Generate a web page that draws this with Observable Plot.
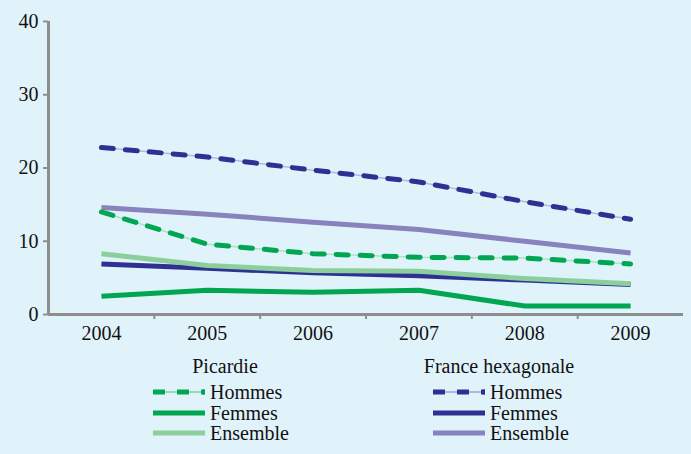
<!DOCTYPE html>
<html>
<head>
<meta charset="utf-8">
<script src="https://cdn.jsdelivr.net/npm/d3@7"></script>
<script src="https://cdn.jsdelivr.net/npm/@observablehq/plot@0.6"></script>
<style>
  html, body { margin: 0; padding: 0; background: #e1f3fa; }
  #wrap { position: relative; width: 691px; height: 454px; background: #e1f3fa; font-family: "Liberation Serif", "DejaVu Serif", Tinos, Times, serif; color: #111; overflow: hidden; }
  #chart { position: absolute; left: 0; top: 0; }
  .grp { position: absolute; font-size: 20px; line-height: 20px; }
  .item { position: absolute; font-size: 20px; line-height: 20px; display: flex; align-items: center; white-space: nowrap; }
  .item svg { margin-right: 5px; }
  #chart svg text { font-family: "Liberation Serif", "DejaVu Serif", Tinos, Times, serif; }
</style>
</head>
<body>
<div id="wrap">
  <div id="chart"></div>
  <div id="legend"></div>
</div>
<script>
const years = [2004, 2005, 2006, 2007, 2008, 2009];
const picHommes   = [14.0, 9.6, 8.3, 7.8, 7.7, 6.9];
const picFemmes   = [2.5, 3.3, 3.05, 3.3, 1.15, 1.15];
const picEnsemble = [8.3, 6.7, 6.0, 5.9, 4.9, 4.2];
const fraHommes   = [22.8, 21.5, 19.7, 18.1, 15.4, 13.0];
const fraFemmes   = [6.9, 6.3, 5.7, 5.3, 4.7, 4.1];
const fraEnsemble = [14.6, 13.7, 12.6, 11.6, 10.0, 8.4];
const yTicks = [0, 10, 20, 30, 40];
const groupNames = ["Picardie", "France hexagonale"];
const seriesNames = ["Hommes", "Femmes", "Ensemble"];

const GREEN = "#00a651", LGREEN = "#8ccf9c", BLUE = "#2e3192", PURPLE = "#8882be";
const GRAY = "#8e8e8e";
const FONT = '"Liberation Serif", "DejaVu Serif", Tinos, Times, serif';

const toRows = (vals) => years.map((y, i) => ({year: y, value: vals[i]}));
const boundaries = years.slice(0, -1).map(y => y + 0.5);

const solid = (vals, color) => Plot.line(toRows(vals), {x: "year", y: "value", stroke: color, strokeWidth: 5, strokeLinecap: "butt"});
const dashed = (vals, color, thin) => [
  Plot.line(toRows(vals), {x: "year", y: "value", stroke: thin, strokeWidth: 1.5}),
  Plot.line(toRows(vals), {x: "year", y: "value", stroke: color, strokeWidth: 5, strokeDasharray: "12,12"})
];

const chart = Plot.plot({
  width: 691, height: 345,
  marginLeft: 48, marginRight: 8, marginTop: 21, marginBottom: 31,
  style: {background: "transparent", fontFamily: FONT, fontSize: "20px", color: "#111", overflow: "visible"},
  x: {domain: [years[0] - 0.5, years[years.length - 1] + 0.5]},
  y: {domain: [0, 40]},
  marks: [
    Plot.axisY({ticks: yTicks, tickSize: 5, tickPadding: 5, stroke: GRAY, strokeWidth: 2, label: null, fill: "#111", strokeOpacity: 1}),
    Plot.axisX({ticks: boundaries, tickSize: 5, tickFormat: () => "", stroke: GRAY, strokeWidth: 2, label: null, strokeOpacity: 1}),
    Plot.axisX({ticks: years, tickSize: 0, tickPadding: 11, tickFormat: d => String(d), label: null, fill: "#111"}),
    Plot.ruleX([years[0] - 0.5], {stroke: GRAY, strokeWidth: 3}),
    Plot.ruleY([0], {stroke: GRAY, strokeWidth: 3}),
    solid(picFemmes, GREEN),
    solid(fraFemmes, BLUE),
    solid(picEnsemble, LGREEN),
    solid(fraEnsemble, PURPLE),
    ...dashed(picHommes, GREEN, "#aee0c6"),
    ...dashed(fraHommes, BLUE, "#b3b9dd")
  ]
});
document.getElementById("chart").appendChild(chart);

// Legend
const legend = document.getElementById("legend");
const groups = [
  {name: groupNames[0], cx: 225, x: 153, colors: [GREEN, GREEN, LGREEN], thin: "#7fd0a6"},
  {name: groupNames[1], cx: 499, x: 433, colors: [BLUE, BLUE, PURPLE], thin: "#9aa2d6"}
];
const rowTops = [382, 403, 423];
groups.forEach(g => {
  const t = document.createElement("div");
  t.className = "grp";
  t.textContent = g.name;
  t.style.top = "356px";
  t.style.left = g.cx + "px";
  t.style.transform = "translateX(-50%)";
  legend.appendChild(t);
  seriesNames.forEach((s, i) => {
    const it = document.createElement("div");
    it.className = "item";
    it.style.left = g.x + "px";
    it.style.top = rowTops[i] + "px";
    let sw;
    if (i === 0) {
      sw = `<svg width="52" height="20"><line x1="0" y1="10" x2="52" y2="10" stroke="${g.thin}" stroke-width="1.5"/><line x1="0" y1="10" x2="52" y2="10" stroke="${g.colors[i]}" stroke-width="5" stroke-dasharray="12,12"/><line x1="50" y1="10" x2="52" y2="10" stroke="${g.colors[i]}" stroke-width="5"/></svg>`;
    } else {
      sw = `<svg width="52" height="20"><line x1="0" y1="10" x2="52" y2="10" stroke="${g.colors[i]}" stroke-width="5"/></svg>`;
    }
    it.innerHTML = sw + `<span>${s}</span>`;
    legend.appendChild(it);
  });
});
</script>
</body>
</html>
